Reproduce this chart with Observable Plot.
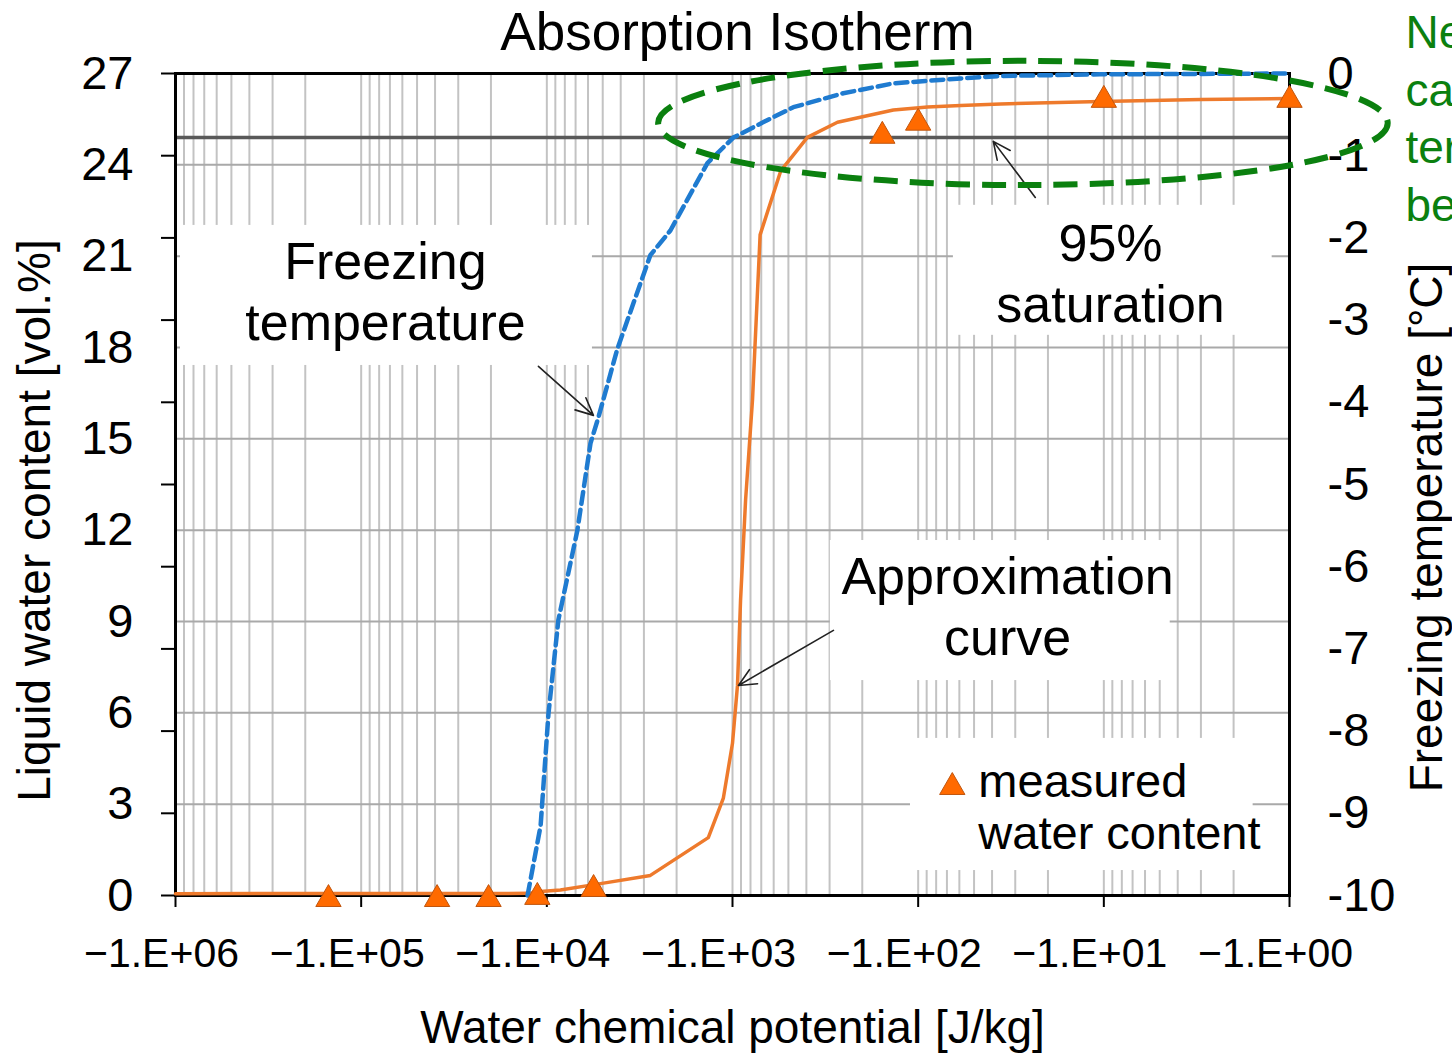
<!DOCTYPE html>
<html><head><meta charset="utf-8">
<script src="https://cdn.jsdelivr.net/npm/d3@7"></script>
<script src="https://cdn.jsdelivr.net/npm/@observablehq/plot@0.6"></script>
<style>
html,body{margin:0;padding:0;background:#fff;overflow:hidden;width:1452px;height:1055px}
#chart{position:relative;width:1452px;height:1055px;overflow:hidden}
</style></head><body><div id="chart"></div>
<script>
const FONT = '"Liberation Sans", Arial, Helvetica, sans-serif';

// Approximation curve: water chemical potential [J/kg] -> liquid water content [vol.%]
const approxMu    = [-1e6, -1.25e4, -1.08e4, -8450, -5140, -2770, -1350, -1120, -1000, -940, -905, -850, -780, -710, -550, -395, -272, -136, -89, -59, -36, -10.4, -3.0, -1];
const approxTheta = [0.06, 0.07, 0.13, 0.18, 0.39, 0.66, 1.9, 3.2, 5.0, 6.9, 9.7, 13.0, 16.3, 21.7, 23.8, 24.9, 25.4, 25.8, 25.9, 25.95, 26.0, 26.08, 26.15, 26.18];

// Measured water content
const measMu    = [-1.5e5, -3.9e4, -2.06e4, -1.125e4, -5600, -156, -100, -10, -1];
const measTheta = [0, 0, 0, 0.07, 0.33, 25.07, 25.5, 26.25, 26.25];

// Freezing temperature [°C] (secondary axis)
const freezeMu = [-12700, -10800, -9800, -8670, -6850, -5820, -5270, -4170, -2770, -2160, -1365, -990, -708, -470, -253, -136, -59, -36, -10.5, -1];
const freezeT  = [-10, -9.15, -7.79, -6.65, -5.56, -4.5, -4.18, -3.35, -2.21, -1.91, -1.09, -0.78, -0.61, -0.41, -0.24, -0.12, -0.06, -0.03, -0.01, 0];

// Axes
const xTickMu = [-1e6, -1e5, -1e4, -1e3, -1e2, -1e1, -1e0];
const xTickLabels = ["−1.E+06", "−1.E+05", "−1.E+04", "−1.E+03", "−1.E+02", "−1.E+01", "−1.E+00"];
const yTicks = [0, 3, 6, 9, 12, 15, 18, 21, 24, 27];
const tTicks = [0, -1, -2, -3, -4, -5, -6, -7, -8, -9, -10];
const tTickLabels = ["0", "-1", "-2", "-3", "-4", "-5", "-6", "-7", "-8", "-9", "-10"];
const yMax = 27;
const saturation95 = 24.9;

// log grid
const decadeStarts = [1, 10, 100, 1e3, 1e4, 1e5];
const minorSteps = [1, 2, 3, 4, 5, 6, 7, 8, 9];
const gridX = decadeStarts.flatMap(d => minorSteps.map(m => m * d)).concat([1e6]);
const gridY = [3, 6, 9, 12, 15, 18, 21, 24];

// Annotations (data units)
const labelBoxes = [
  {mu1: -9.4e5, mu2: -5680, v1: 17.41, v2: 22.01},
  {mu1: -64.6, mu2: -1.24, v1: 18.4, v2: 22.67},
  {mu1: -297, mu2: -4.39, v1: 7.06, v2: 11.66},
  {mu1: -110, mu2: -1.57, v1: 0.82, v2: 5.16}
];
const labels = [
  {mu: -74000, v: 19.9, text: "Freezing\ntemperature"},
  {mu: -9.2, v: 20.47, text: "95%\nsaturation"},
  {mu: -33, v: 9.53, text: "Approximation\ncurve"}
];
const arrows = [
  {mu1: -11100, v1: 17.38, mu2: -5610, v2: 15.77},
  {mu1: -23.4, v1: 22.93, mu2: -39.4, v2: 24.77},
  {mu1: -286, v1: 8.71, mu2: -929, v2: 6.9}
];
const legendText = {mu: -47.4, v: 2.92, text: "measured\nwater content"};
const legendMarker = {mu: -65.5, v: 3.68};
const ellipseBounds = {muLeft: -2500, muRight: -0.294, top: 27.4, bottom: 23.32};
const greenNote = "Near\ncan\nterm\nbe";

const tempToY = t => yMax + t * (yMax / 10);

const approx = approxMu.map((m, i) => ({mu: -m, v: approxTheta[i]}));
const meas = measMu.map((m, i) => ({mu: -m, v: measTheta[i]}));
const freeze = freezeMu.map((m, i) => ({mu: -m, v: tempToY(freezeT[i])}));

const orange = "#ee7a2c";
const blue = "#1f7bd0";
const green = "#0b800f";

const chart = Plot.plot({
  width: 1452, height: 1055,
  marginLeft: 175, marginRight: 163, marginTop: 73, marginBottom: 160,
  x: {type: "log", domain: [1e6, 1]},
  y: {domain: [0, yMax]},
  style: {fontFamily: FONT, background: "white", color: "black", overflow: "visible"},
  marks: [
    Plot.ruleX(gridX, {x: d => d, y1: 0, y2: yMax, stroke: "#c3c3c3", strokeWidth: 2}),
    Plot.ruleY(gridY, {y: d => d, stroke: "#a9a9a9", strokeWidth: 2}),
    Plot.rect(labelBoxes, {x1: d => -d.mu1, x2: d => -d.mu2, y1: "v1", y2: "v2", fill: "white"}),
    Plot.ruleY([saturation95], {stroke: "#595959", strokeWidth: 3.5}),
    Plot.frame({stroke: "black", strokeWidth: 3}),
    Plot.axisX(xTickMu.map(m => -m), {tickSize: 12, tickFormat: () => "", label: null, strokeWidth: 2}),
    Plot.axisX(xTickMu.map(m => -m), {
      tickSize: 0, tickPadding: 42, fontSize: 41, dx: -14, label: null,
      tickFormat: d => xTickLabels[xTickMu.indexOf(-d)]
    }),
    Plot.axisY(yTicks, {anchor: "left", tickSize: 0, tickPadding: 42, fontSize: 47, label: null}),
    Plot.axisY(tTicks.map(tempToY), {anchor: "left", tickSize: 14, tickFormat: () => "", label: null, strokeWidth: 2}),
    Plot.axisY(tTicks.map(tempToY), {
      anchor: "right", tickSize: 0, tickPadding: 38, fontSize: 47, label: null,
      tickFormat: y => tTickLabels[tTicks.findIndex(t => Math.abs(tempToY(t) - y) < 1e-9)]
    }),
    Plot.line(approx, {x: "mu", y: "v", stroke: orange, strokeWidth: 3.5}),
    Plot.line(freeze, {x: "mu", y: "v", stroke: blue, strokeWidth: 4.5, strokeDasharray: "12,6"}),
    Plot.dot(meas, {x: "mu", y: "v", symbol: "triangle", r: 9.4, dy: 3.7, fill: "#ff6a00", stroke: "#c0560f", strokeWidth: 1}),
    Plot.dot([legendMarker], {x: d => -d.mu, y: "v", symbol: "triangle", r: 9.4, dy: 3.7, fill: "#ff6a00", stroke: "#c0560f", strokeWidth: 1}),
    Plot.arrow(arrows, {x1: d => -d.mu1, y1: "v1", x2: d => -d.mu2, y2: "v2", stroke: "#222", strokeWidth: 1.6, headLength: 18, headAngle: 50}),
    Plot.text(labels, {x: d => -d.mu, y: "v", text: "text", fontSize: 52, lineHeight: 1.17, lineAnchor: "middle", textAnchor: "middle", fill: "black"}),
    Plot.text([legendText], {x: d => -d.mu, y: "v", text: "text", fontSize: 47, lineHeight: 1.1, lineAnchor: "middle", textAnchor: "start", fill: "black"}),
    Plot.text(["Absorption Isotherm"], {frameAnchor: "top", dx: 5, dy: -40, fontSize: 53, lineAnchor: "middle", fill: "black"}),
    Plot.text(["Liquid water content [vol.%]"], {frameAnchor: "left", rotate: -90, dx: -140, dy: 36, fontSize: 46, textAnchor: "middle", lineAnchor: "middle", fill: "black"}),
    Plot.text(["Freezing temperature [°C]"], {frameAnchor: "right", rotate: -90, dx: 138, dy: 43, fontSize: 46, textAnchor: "middle", lineAnchor: "middle", fill: "black"}),
    Plot.text(["Water chemical potential [J/kg]"], {frameAnchor: "bottom", dy: 133, fontSize: 46, lineAnchor: "middle", fill: "black"}),
    Plot.text([greenNote], {frameAnchor: "top-right", dx: 116, dy: -66, fontSize: 46, lineHeight: 1.25, textAnchor: "start", lineAnchor: "top", fill: green})
  ]
});

// Green dashed highlight ellipse, placed with the plot's own scales
const sx = chart.scale("x"), sy = chart.scale("y");
const xl = sx.apply(-ellipseBounds.muLeft), xr = sx.apply(-ellipseBounds.muRight);
const yt = sy.apply(ellipseBounds.top), yb = sy.apply(ellipseBounds.bottom);
d3.select(chart).append("ellipse")
  .attr("cx", (xl + xr) / 2).attr("cy", (yt + yb) / 2)
  .attr("rx", Math.abs(xr - xl) / 2).attr("ry", Math.abs(yb - yt) / 2)
  .attr("fill", "none").attr("stroke", green).attr("stroke-width", 6)
  .attr("stroke-dasharray", "24,12");

document.getElementById("chart").appendChild(chart);
</script></body></html>
